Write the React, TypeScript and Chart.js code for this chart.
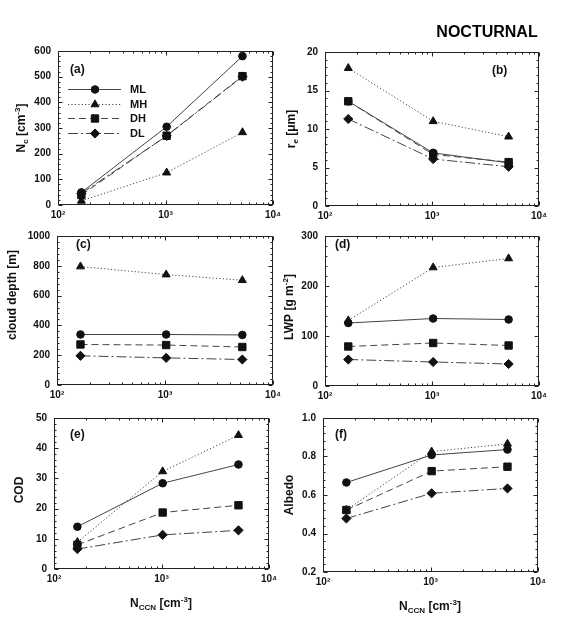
import React, { useEffect, useRef } from 'react';
import { Chart, registerables } from 'chart.js';
Chart.register(...registerables);

const FONT = '"Liberation Sans", Arial, Helvetica, sans-serif';

// x values: N_CCN [cm^-3]
const N_CCN = [165, 1025, 5200];
const SERIES_NAMES = ['ML', 'MH', 'DH', 'DL'];
const X_TICK_LABELS: Record<number, string> = { 100: '10²', 1000: '10³', 10000: '10⁴' };

// (a) Nc [cm^-3]
const NC_ML = [49, 305, 580];
const NC_MH = [16, 126, 283];
const NC_DH = [39, 270, 502];
const NC_DL = [45, 269, 500];
// (b) re [um]
const RE_ML = [13.6, 6.9, 5.6];
const RE_MH = [17.9, 11.0, 9.0];
const RE_DH = [13.6, 6.7, 5.7];
const RE_DL = [11.3, 6.1, 5.1];
// (c) cloud depth [m]
const CD_ML = [339, 339, 336];
const CD_MH = [795, 741, 703];
const CD_DH = [272, 268, 255];
const CD_DL = [196, 182, 171];
// (d) LWP [g m^-2]
const LWP_ML = [126, 135, 133];
const LWP_MH = [131, 237, 255];
const LWP_DH = [79, 86, 81];
const LWP_DL = [53, 48, 44];
// (e) COD
const COD_ML = [14.0, 28.4, 34.6];
const COD_MH = [8.9, 32.3, 44.3];
const COD_DH = [8.0, 18.7, 21.1];
const COD_DL = [6.6, 11.3, 12.8];
// (f) Albedo
const ALB_ML = [0.665, 0.808, 0.836];
const ALB_MH = [0.522, 0.825, 0.866];
const ALB_DH = [0.522, 0.724, 0.747];
const ALB_DL = [0.478, 0.609, 0.634];

type Seg = { t: string; s?: 'sub' | 'sup' };

const STYLES: Record<string, any> = {
  ML: { pointStyle: 'circle', radius: 3.8, dash: [] as number[] },
  MH: { pointStyle: 'triangle', radius: 4.6, dash: [1.2, 2.2] },
  DH: { pointStyle: 'rect', radius: 5.2, dash: [7, 4] },
  DL: { pointStyle: 'rectRot', radius: 4.6, dash: [10, 3, 2, 3] },
};

const NCCN_TITLE: Seg[] = [{ t: 'N' }, { t: 'CCN', s: 'sub' }, { t: ' [cm' }, { t: '-3', s: 'sup' }, { t: ']' }];

const PANELS = [
  {
    id: 'a', cell: { x: 0, y: 0, w: 292, h: 223 }, plot: { l: 58, t: 51, r: 273, b: 205 },
    yMin: 0, yMax: 600, yStep: 100, dec: 0, data: [NC_ML, NC_MH, NC_DH, NC_DL],
    label: { x: 70, y: 70 }, yTitle: [{ t: 'N' }, { t: 'c', s: 'sub' }, { t: ' [cm' }, { t: '-3', s: 'sup' }, { t: ']' }] as Seg[],
    yTitlePos: { x: 22, y: 128 }, legend: true,
  },
  {
    id: 'b', cell: { x: 280, y: 0, w: 285, h: 223 }, plot: { l: 325, t: 52, r: 539, b: 206 },
    yMin: 0, yMax: 20, yStep: 5, dec: 0, data: [RE_ML, RE_MH, RE_DH, RE_DL],
    label: { x: 492, y: 71 }, yTitle: [{ t: 'r' }, { t: 'e', s: 'sub' }, { t: ' [μm]' }] as Seg[],
    yTitlePos: { x: 292, y: 129 }, title: true,
  },
  {
    id: 'c', cell: { x: 0, y: 223, w: 292, h: 182 }, plot: { l: 57, t: 231, r: 273, b: 385 },
    yMin: 0, yMax: 1000, yStep: 200, dec: 0, data: [CD_ML, CD_MH, CD_DH, CD_DL],
    label: { x: 76, y: 245 }, yTitle: [{ t: 'cloud depth [m]' }] as Seg[],
    yTitlePos: { x: 13, y: 295 },
  },
  {
    id: 'd', cell: { x: 280, y: 223, w: 285, h: 182 }, plot: { l: 325, t: 231, r: 539, b: 386 },
    yMin: 0, yMax: 300, yStep: 100, dec: 0, data: [LWP_ML, LWP_MH, LWP_DH, LWP_DL],
    label: { x: 335, y: 245 }, yTitle: [{ t: 'LWP [g m' }, { t: '-2', s: 'sup' }, { t: ']' }] as Seg[],
    yTitlePos: { x: 290, y: 307 },
  },
  {
    id: 'e', cell: { x: 0, y: 405, w: 292, h: 217 }, plot: { l: 54, t: 415, r: 269, b: 569 },
    yMin: 0, yMax: 50, yStep: 10, dec: 0, data: [COD_ML, COD_MH, COD_DH, COD_DL],
    label: { x: 70, y: 435 }, yTitle: [{ t: 'COD' }] as Seg[],
    yTitlePos: { x: 20, y: 490 }, xTitle: NCCN_TITLE, xTitlePos: { x: 161, y: 604 },
  },
  {
    id: 'f', cell: { x: 280, y: 405, w: 285, h: 217 }, plot: { l: 323, t: 417, r: 538, b: 572 },
    yMin: 0.2, yMax: 1.0, yStep: 0.2, dec: 1, data: [ALB_ML, ALB_MH, ALB_DH, ALB_DL],
    label: { x: 335, y: 435 }, yTitle: [{ t: 'Albedo' }] as Seg[],
    yTitlePos: { x: 290, y: 495 }, xTitle: NCCN_TITLE, xTitlePos: { x: 430, y: 607 },
  },
];

function drawRich(ctx: CanvasRenderingContext2D, segs: Seg[], x: number, y: number, size: number, rotate: boolean) {
  ctx.save();
  ctx.translate(x, y);
  if (rotate) ctx.rotate(-Math.PI / 2);
  const fontFor = (s: Seg) => `bold ${s.s ? Math.round(size * 0.7) : size}px ${FONT}`;
  let total = 0;
  for (const s of segs) { ctx.font = fontFor(s); total += ctx.measureText(s.t).width; }
  let cx = -total / 2;
  ctx.textBaseline = 'middle';
  ctx.textAlign = 'left';
  ctx.fillStyle = '#111';
  for (const s of segs) {
    ctx.font = fontFor(s);
    const dy = s.s === 'sub' ? size * 0.32 : s.s === 'sup' ? -size * 0.38 : 0;
    ctx.fillText(s.t, cx, dy);
    cx += ctx.measureText(s.t).width;
  }
  ctx.restore();
}

function drawMarker(ctx: CanvasRenderingContext2D, name: string, x: number, y: number) {
  const st = STYLES[name];
  const r = st.radius;
  ctx.save();
  ctx.fillStyle = '#111';
  ctx.strokeStyle = '#111';
  ctx.setLineDash([]);
  ctx.lineWidth = 1;
  ctx.beginPath();
  if (st.pointStyle === 'circle') {
    ctx.arc(x, y, r, 0, Math.PI * 2);
  } else if (st.pointStyle === 'triangle') {
    for (let k = 0; k < 3; k++) {
      const a = (k * 2 * Math.PI) / 3;
      const px = x + Math.sin(a) * r, py = y - Math.cos(a) * r;
      if (k === 0) ctx.moveTo(px, py); else ctx.lineTo(px, py);
    }
  } else if (st.pointStyle === 'rect') {
    const h = r * Math.SQRT1_2;
    ctx.rect(x - h, y - h, 2 * h, 2 * h);
  } else {
    ctx.moveTo(x, y - r); ctx.lineTo(x + r, y); ctx.lineTo(x, y + r); ctx.lineTo(x - r, y);
  }
  ctx.closePath();
  ctx.fill();
  ctx.stroke();
  ctx.restore();
}

function makePlugin(p: any) {
  return {
    id: 'panelDeco' + p.id,
    afterDraw(chart: any) {
      const ctx: CanvasRenderingContext2D = chart.ctx;
      const ox = p.cell.x, oy = p.cell.y;
      const { left, right, top, bottom } = chart.chartArea;
      const xs = chart.scales.x, ys = chart.scales.y;
      ctx.save();
      ctx.strokeStyle = '#222';
      ctx.lineWidth = 1;
      ctx.setLineDash([]);
      const L = Math.round(left) + 0.5, R = Math.round(right) - 0.5, T = Math.round(top) + 0.5, B = Math.round(bottom) - 0.5;
      ctx.strokeRect(L, T, R - L, B - T);
      ctx.beginPath();
      // x ticks (log), inward at bottom and top
      for (let dec = 100; dec <= 10000; dec *= 10) {
        for (let m = 1; m <= 9; m++) {
          const v = dec * m;
          if (v > 10000) break;
          const px = Math.round(xs.getPixelForValue(v)) + 0.5;
          const len = m === 1 ? 4 : 2;
          ctx.moveTo(px, B); ctx.lineTo(px, B - len);
          ctx.moveTo(px, T); ctx.lineTo(px, T + len);
        }
      }
      // y ticks, inward at left and right
      const minor = p.yStep / 5;
      const n = Math.round((p.yMax - p.yMin) / minor);
      for (let i = 0; i <= n; i++) {
        const v = p.yMin + i * minor;
        const py = Math.round(ys.getPixelForValue(v)) + 0.5;
        const len = i % 5 === 0 ? 4 : 2;
        ctx.moveTo(L, py); ctx.lineTo(L + len, py);
        ctx.moveTo(R, py); ctx.lineTo(R - len, py);
      }
      ctx.stroke();

      // panel label
      ctx.fillStyle = '#111';
      ctx.font = `bold 12px ${FONT}`;
      ctx.textAlign = 'left';
      ctx.textBaseline = 'middle';
      ctx.fillText('(' + p.id + ')', p.label.x - ox, p.label.y - oy);

      drawRich(ctx, p.yTitle, p.yTitlePos.x - ox, p.yTitlePos.y - oy, 12, true);
      if (p.xTitle) drawRich(ctx, p.xTitle, p.xTitlePos.x - ox, p.xTitlePos.y - oy, 12, false);

      if (p.title) {
        ctx.font = `bold 16px ${FONT}`;
        ctx.textAlign = 'center';
        ctx.textBaseline = 'middle';
        ctx.fillStyle = '#000';
        ctx.fillText('NOCTURNAL', 487 - ox, 33 - oy);
      }

      if (p.legend) {
        const rows = [89, 104, 118, 133];
        SERIES_NAMES.forEach((name, i) => {
          const y = rows[i] - oy + 0.5;
          ctx.save();
          ctx.strokeStyle = '#444';
          ctx.lineWidth = 1;
          ctx.setLineDash(STYLES[name].dash);
          ctx.beginPath();
          ctx.moveTo(68 - ox, y); ctx.lineTo(121 - ox, y);
          ctx.stroke();
          ctx.restore();
          drawMarker(ctx, name, 95 - ox, y);
          ctx.fillStyle = '#111';
          ctx.font = `bold 11px ${FONT}`;
          ctx.textAlign = 'left';
          ctx.textBaseline = 'middle';
          ctx.fillText(name, 130 - ox, y);
        });
      }
      ctx.restore();
    },
  };
}

function Panel({ p }: { p: any }) {
  const ref = useRef<HTMLCanvasElement>(null);
  useEffect(() => {
    const datasets = SERIES_NAMES.map((name, i) => {
      const st = STYLES[name];
      return {
        label: name,
        data: N_CCN.map((x, j) => ({ x, y: p.data[i][j] })),
        borderColor: '#444',
        borderWidth: 1,
        borderDash: st.dash,
        backgroundColor: '#111',
        pointBackgroundColor: '#111',
        pointBorderColor: '#111',
        pointStyle: st.pointStyle,
        pointRadius: st.radius,
        pointBorderWidth: 1,
        tension: 0,
        fill: false,
      };
    });
    const cellBottom = p.cell.y + p.cell.h;
    const chart = new Chart(ref.current as HTMLCanvasElement, {
      type: 'line',
      data: { datasets },
      options: {
        responsive: false,
        animation: false,
        devicePixelRatio: 1,
        layout: {
          padding: { left: 0, top: p.plot.t - p.cell.y, right: p.cell.x + p.cell.w - p.plot.r, bottom: 0 },
        },
        plugins: { legend: { display: false }, tooltip: { enabled: false } },
        scales: {
          x: {
            type: 'logarithmic',
            min: 100,
            max: 10000,
            grid: { display: false, drawTicks: false },
            border: { display: false },
            ticks: {
              autoSkip: false,
              maxRotation: 0,
              padding: 4,
              color: '#111',
              font: { family: FONT, size: 10, weight: 'bold' },
              callback: (v: any) => X_TICK_LABELS[Math.round(Number(v))] ?? '',
            },
            afterFit: (s: any) => { s.height = cellBottom - p.plot.b; },
          },
          y: {
            type: 'linear',
            min: p.yMin,
            max: p.yMax,
            grid: { display: false, drawTicks: false },
            border: { display: false },
            ticks: {
              stepSize: p.yStep,
              padding: 7,
              color: '#111',
              font: { family: FONT, size: 10, weight: 'bold' },
              callback: (v: any) => Number(v).toFixed(p.dec),
            },
            afterFit: (s: any) => { s.width = p.plot.l - p.cell.x; },
          },
        },
      } as any,
      plugins: [makePlugin(p)],
    });
    return () => chart.destroy();
  }, []);
  return (
    <canvas
      ref={ref}
      width={p.cell.w}
      height={p.cell.h}
      style={{ position: 'absolute', left: p.cell.x, top: p.cell.y, width: p.cell.w, height: p.cell.h }}
    />
  );
}

export default function App() {
  return (
    <div style={{ position: 'absolute', left: 0, top: 0, width: 565, height: 622, background: '#fff' }}>
      {PANELS.map((p) => <Panel key={p.id} p={p} />)}
    </div>
  );
}
